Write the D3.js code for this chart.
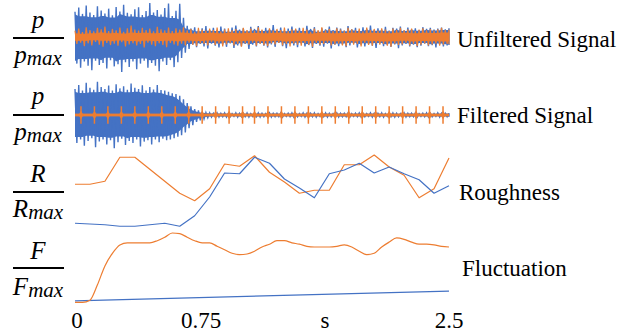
<!DOCTYPE html>
<html>
<head>
<meta charset="utf-8">
<script src="https://cdn.jsdelivr.net/npm/d3@7/dist/d3.min.js"></script>
<style>
    body { margin: 0; background: #fff; }
    svg { display: block; }
</style>
</head>
<body>
<div id="chart"></div>
<script>
// ---- data ----
// time axis in seconds
const timeDomain = [0, 2.5];
const tickLabels = ['0', '0.75', 's', '2.5'];
const panelLabels = ['Unfiltered Signal', 'Filtered Signal', 'Roughness', 'Fluctuation'];

// signal peaks, % of p_max, sampled every 0.025 s
const sigStep = 0.025;
const unfBlueHi = [72,84,66,90,70,63,88,76,67,81, 62,86,73,92,69,65,79,85,63,74, 97,70,77,64,83,96,60,75,95,55,
    32,24,28,18,25,31,20,26,19,30, 24,17,27,33,21,25,18,29,23,31, 19,26,22,34,20,27,18,24,30,21,
    26,19,32,23,28,17,25,22,30,20, 27,24,18,31,22,26,19,28,23,33, 20,25,21,29,18,26,24,30,19,27,
    22,25,20,28,23,26,21,24,27,22, 25];
const unfBlueLo = [-76,-88,-70,-82,-95,-68,-80,-74,-90,-66, -84,-78,-100,-72,-86,-70,-92,-76,-68,-88,
    -74,-82,-98,-70,-80,-66,-86,-72,-60,-45, -34,-22,-29,-20,-27,-33,-19,-25,-30,-21,
    -28,-18,-31,-24,-26,-20,-34,-22,-27,-19, -25,-30,-21,-28,-17,-26,-32,-20,-24,-29,
    -18,-27,-23,-31,-20,-25,-28,-19,-33,-22, -26,-21,-29,-24,-18,-30,-22,-27,-20,-25,
    -31,-19,-26,-23,-28,-21,-32,-24,-20,-27, -22,-29,-25,-19,-26,-23,-30,-21,-27,-24, -23];
const unfOrangeHi = [18,24,14,28,20,16,26,22,30,17, 23,19,27,15,25,33,21,18,26,20, 24,16,29,22,19,27,17,25,21,28,
    19,23,15,26,21,18,24,20,27,16, 22,25,19,23,17,26,20,24,18,28, 21,16,25,19,23,20,27,17,22,24,
    18,26,21,15,24,20,28,19,23,17, 25,21,18,26,22,19,24,16,27,20, 23,18,25,21,17,24,20,26,19,22,
    24,17,21,25,19,23,18,22,26,20, 21];
const unfOrangeLo = [-20,-16,-26,-18,-24,-14,-22,-28,-17,-23, -19,-25,-15,-27,-21,-18,-24,-20,-30,-16,
    -22,-26,-18,-23,-29,-17,-21,-25,-19,-24, -16,-22,-26,-18,-20,-24,-15,-23,-19,-27,
    -21,-17,-24,-20,-28,-18,-22,-16,-25,-19, -23,-26,-18,-21,-17,-24,-20,-27,-19,-22,
    -25,-18,-22,-28,-17,-23,-20,-16,-24,-21, -19,-24,-26,-18,-22,-20,-27,-17,-23,-25,
    -18,-22,-20,-25,-28,-19,-23,-21,-17,-24, -20,-26,-22,-18,-24,-21,-19,-25,-22,-20, -21];
const filBlueHi = [74,86,70,92,78,72,95,80,74,84, 70,88,76,82,72,90,78,74,85,70, 80,73,86,71,70,66,62,60,55,45,
    34,25,17,13,9,7,6,5,6,5, 6,5,4,6,5,5,6,4,5,6, 5,4,6,5,5,6,4,5,6,5,
    4,6,5,5,6,4,5,6,5,4, 6,5,5,6,4,5,6,5,4,6, 5,5,6,4,5,6,5,4,6,5,
    5,6,4,5,6,5,4,6,5,5, 5];
const filBlueLo = [-80,-70,-88,-74,-66,-92,-76,-70,-84,-72, -95,-78,-68,-86,-74,-80,-70,-90,-76,-72,
    -84,-70,-78,-68,-72,-70,-66,-62,-58,-50, -38,-29,-20,-15,-11,-8,-6,-5,-6,-5,
    -6,-5,-4,-6,-5,-5,-6,-4,-5,-6, -5,-4,-6,-5,-5,-6,-4,-5,-6,-5,
    -4,-6,-5,-5,-6,-4,-5,-6,-5,-4, -6,-5,-5,-6,-4,-5,-6,-5,-4,-6,
    -5,-5,-6,-4,-5,-6,-5,-4,-6,-5, -5,-6,-4,-5,-6,-5,-4,-6,-5,-5, -5];
// filtered orange: periodic pulses on a thin baseline
const filPulseTimes = [0.04,0.13,0.22,0.31,0.40,0.49,0.58,0.67,0.76,0.85,0.94,1.03,1.12,1.20,
    1.29,1.38,1.47,1.56,1.65,1.74,1.83,1.92,2.01,2.10,2.19,2.28,2.37,2.46];
const filPulseAmp = 25;
const filBaseAmp = 4;

// roughness, R/Rmax every 0.1 s
const roughStep = 0.1;
const roughOrange = [0.61,0.61,0.65,0.97,0.97,0.81,0.65,0.49,0.39,0.55,0.88,0.85,0.99,
    0.77,0.64,0.49,0.53,0.53,0.87,0.87,1.0,0.84,0.73,0.43,0.55,0.96];
const roughBlue = [0.09,0.08,0.07,0.05,0.05,0.07,0.09,0.05,0.19,0.44,0.76,0.75,0.97,
    0.89,0.68,0.56,0.43,0.75,0.8,0.89,0.76,0.84,0.75,0.67,0.49,0.59];

// fluctuation, F/Fmax every 0.05 s
const fluctStep = 0.05;
const fluctOrange = [0.01,0.01,0.04,0.26,0.53,0.71,0.83,0.86,0.86,0.86,0.86,0.89,0.94,1.0,0.99,
    0.94,0.89,0.86,0.86,0.81,0.76,0.71,0.69,0.70,0.74,0.80,0.84,0.89,0.89,0.86,0.84,0.81,0.80,
    0.80,0.80,0.81,0.83,0.80,0.74,0.69,0.71,0.80,0.87,0.93,0.91,0.87,0.84,0.84,0.83,0.81,0.80];
const fluctBlueTimes = [0, 2.5];
const fluctBlue = [0.03, 0.17];

// ---- layout ----
const W = 631, H = 335;
const blue = '#4472C4', orange = '#ED7D31';
const serif = 'Liberation Serif';

const x = d3.scaleLinear().domain(timeDomain).range([75, 449]);

// one entry per strip: y range and the fraction on the left
const strips = [
    {range: [72, 2],    domain: [-100, 100], bar: 38,  num: 'p', den: 'p', numDy: -10, denDy: 25, labelY: 47},
    {range: [150, 80],  domain: [-100, 100], bar: 115, num: 'p', den: 'p', numDy: -11, denDy: 25, labelY: 123},
    {range: [230, 155], domain: [0, 1],      bar: 192, num: 'R', den: 'R', numDy: -10, denDy: 25, labelY: 200},
    {range: [303, 233], domain: [0, 1],      bar: 268, num: 'F', den: 'F', numDy: -9,  denDy: 27, labelY: 276}
];
strips.forEach(s => { s.y = d3.scaleLinear().domain(s.domain).range(s.range); });

const svg = d3.select('#chart').append('svg')
    .attr('width', W)
    .attr('height', H)
    .attr('font-family', serif);

// sampled waveform: a solid body (smallest neighbouring peak, scaled by
// `fill`) with the sample-by-sample swing drawn over it
function wave(hi, lo, step, s, color, width, fill) {
    const body = hi.map((v, i) => ({
        t: i * step,
        hi: fill * d3.min([hi[i - 1], v, hi[i + 1]].filter(a => a !== undefined)),
        lo: fill * d3.max([lo[i - 1], lo[i], lo[i + 1]].filter(a => a !== undefined))
    }));
    svg.append('path')
        .datum(body)
        .attr('fill', color)
        .attr('d', d3.area()
            .x(d => x(d.t))
            .y0(d => s.y(d.lo))
            .y1(d => s.y(d.hi)));

    const pts = [];
    hi.forEach((v, i) => {
        pts.push({t: i * step, v});
        pts.push({t: Math.min(i * step + step / 2, timeDomain[1]), v: lo[i]});
    });
    svg.append('path')
        .datum(pts)
        .attr('fill', 'none')
        .attr('stroke', color)
        .attr('stroke-width', width)
        .attr('d', d3.line()
            .x(d => x(d.t))
            .y(d => s.y(d.v)));
}

function series(vals, times, s, color, width, curve) {
    const pts = vals.map((v, i) => ({t: times[i], v}));
    svg.append('path')
        .datum(pts)
        .attr('fill', 'none')
        .attr('stroke', color)
        .attr('stroke-width', width)
        .attr('stroke-linejoin', 'round')
        .attr('d', d3.line()
            .curve(curve || d3.curveLinear)
            .x(d => x(d.t))
            .y(d => s.y(d.v)));
}

// strip 1: unfiltered
wave(unfBlueHi, unfBlueLo, sigStep, strips[0], blue, 1.4, 0.9);
wave(unfOrangeHi, unfOrangeLo, sigStep, strips[0], orange, 1.2, 0.65);

// strip 2: filtered
wave(filBlueHi, filBlueLo, sigStep, strips[1], blue, 1.4, 0.9);
svg.append('rect')
    .attr('x', x(timeDomain[0]))
    .attr('y', strips[1].y(filBaseAmp))
    .attr('width', x(timeDomain[1]) - x(timeDomain[0]))
    .attr('height', strips[1].y(-filBaseAmp) - strips[1].y(filBaseAmp))
    .attr('fill', orange);
svg.selectAll('.pulse')
    .data(filPulseTimes)
    .enter()
    .append('line')
    .attr('class', 'pulse')
    .attr('x1', d => x(d))
    .attr('x2', d => x(d))
    .attr('y1', strips[1].y(filPulseAmp))
    .attr('y2', strips[1].y(-filPulseAmp))
    .attr('stroke', orange)
    .attr('stroke-width', 1.5);
svg.selectAll('.pulse-core')
    .data(filPulseTimes)
    .enter()
    .append('path')
    .attr('class', 'pulse-core')
    .attr('fill', orange)
    .attr('d', d => {
        const cx = x(d), y0 = strips[1].y(0), h = strips[1].y(0) - strips[1].y(12);
        return `M${cx - 2.5},${y0}L${cx},${y0 - h}L${cx + 2.5},${y0}L${cx},${y0 + h}Z`;
    });

// strip 3: roughness
const roughTimes = roughBlue.map((_, i) => i * roughStep);
series(roughOrange, roughTimes, strips[2], orange, 1.2);
series(roughBlue, roughTimes, strips[2], blue, 1.2);

// strip 4: fluctuation
const fluctTimes = fluctOrange.map((_, i) => i * fluctStep);
series(fluctBlue, fluctBlueTimes, strips[3], blue, 1.3);
series(fluctOrange, fluctTimes, strips[3], orange, 1.2, d3.curveMonotoneX);

// fractions on the left
strips.forEach(s => {
    svg.append('line')
        .attr('x1', 13).attr('x2', 64)
        .attr('y1', s.bar).attr('y2', s.bar)
        .attr('stroke', '#000')
        .attr('stroke-width', 1.8);
    svg.append('text')
        .attr('x', 38)
        .attr('y', s.bar + s.numDy)
        .attr('text-anchor', 'middle')
        .attr('font-family', serif)
        .attr('font-style', 'italic')
        .attr('font-size', 25)
        .text(s.num);
    const den = svg.append('text')
        .attr('x', 38)
        .attr('y', s.bar + s.denDy)
        .attr('text-anchor', 'middle')
        .attr('font-family', serif)
        .attr('font-style', 'italic')
        .attr('font-size', 25);
    den.append('tspan').text(s.den);
    den.append('tspan')
        .attr('dy', 2)
        .attr('font-size', 21)
        .text('max');
});

// labels on the right
svg.selectAll('.strip-label')
    .data(panelLabels)
    .enter()
    .append('text')
    .attr('class', 'strip-label')
    .attr('x', (d, i) => [457, 457, 459, 462][i])
    .attr('y', (d, i) => strips[i].labelY)
    .attr('font-family', serif)
    .attr('font-size', 23)
    .text(d => d);

// bottom tick labels, evenly spread across the time span
const tickPos = d3.scalePoint().domain(tickLabels).range([77, 449]);
svg.selectAll('.tick-label')
    .data(tickLabels)
    .enter()
    .append('text')
    .attr('class', 'tick-label')
    .attr('x', d => tickPos(d))
    .attr('y', 328)
    .attr('text-anchor', 'middle')
    .attr('font-family', serif)
    .attr('font-size', 23)
    .text(d => d);
</script>
</body>
</html>
